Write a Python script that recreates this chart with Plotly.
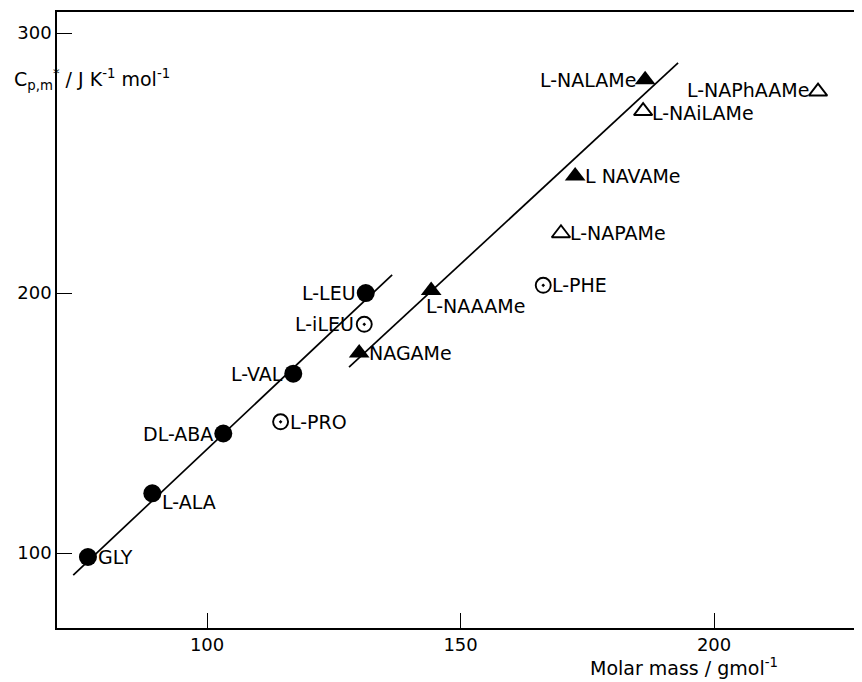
import plotly.graph_objects as go

# ---- data ----
aa_labels = ["GLY", "L-ALA", "DL-ABA", "L-VAL", "L-LEU"]
aa_mass = [76.5, 89.2, 103.2, 117.0, 131.3]
aa_cp = [98.5, 123.0, 146.0, 169.0, 200.0]

aa_open_labels = ["L-iLEU", "L-PRO", "L-PHE"]
aa_open_mass = [131.0, 114.5, 166.3]
aa_open_cp = [188.0, 150.5, 203.0]

pep_labels = ["NAGAMe", "L-NAAAMe", "L NAVAMe", "L-NALAMe"]
pep_mass = [130.0, 144.2, 172.6, 186.4]
pep_cp = [177.0, 201.0, 245.0, 282.0]

pep_open_labels = ["L-NAPAMe", "L-NAiLAMe", "L-NAPhAAMe"]
pep_open_mass = [169.8, 186.0, 220.5]
pep_open_cp = [223.0, 270.0, 277.5]

fit1_mass = [73.6, 136.5]
fit1_cp = [91.5, 207.0]
fit2_mass = [128.0, 192.9]
fit2_cp = [171.5, 288.5]

x_ticks = [100, 150, 200]
y_ticks = [100, 200, 300]

# ---- label placement (style) ----
label_style = {
    "GLY": ("left", 9, 0),
    "L-ALA": ("left", 9, -9),
    "DL-ABA": ("right", -9, 0),
    "L-VAL": ("right", -9, 0),
    "L-LEU": ("right", -9, 0),
    "L-iLEU": ("right", -9, 0),
    "L-PRO": ("left", 8, 0),
    "L-PHE": ("left", 8, 0),
    "NAGAMe": ("left", 9, 0),
    "L-NAAAMe": ("left", -6, -16),
    "L NAVAMe": ("left", 9, 0),
    "L-NALAMe": ("right", -8, 0),
    "L-NAPAMe": ("left", 8, 0),
    "L-NAiLAMe": ("left", 8, -2),
    "L-NAPhAAMe": ("right", -8, 2),
}

FONT = "DejaVu Sans"
fig = go.Figure()

for mx, my in [(fit1_mass, fit1_cp), (fit2_mass, fit2_cp)]:
    fig.add_trace(go.Scatter(x=mx, y=my, mode="lines",
                             line=dict(color="black", width=1.7),
                             hoverinfo="skip"))

fig.add_trace(go.Scatter(x=aa_mass, y=aa_cp, mode="markers",
                         marker=dict(symbol="circle", size=18, color="black")))
fig.add_trace(go.Scatter(x=aa_open_mass, y=aa_open_cp, mode="markers",
                         marker=dict(symbol="circle-open-dot", size=15, color="black",
                                     line=dict(width=1.9, color="black"))))
fig.add_trace(go.Scatter(x=pep_mass, y=pep_cp, mode="markers",
                         marker=dict(symbol="triangle-up", size=18, color="black")))
fig.add_trace(go.Scatter(x=pep_open_mass, y=pep_open_cp, mode="markers",
                         marker=dict(symbol="triangle-up-open", size=16, color="black",
                                     line=dict(width=1.9, color="black"))))

annos = []
for labels, xs, ys in [(aa_labels, aa_mass, aa_cp),
                       (aa_open_labels, aa_open_mass, aa_open_cp),
                       (pep_labels, pep_mass, pep_cp),
                       (pep_open_labels, pep_open_mass, pep_open_cp)]:
    for lab, x, y in zip(labels, xs, ys):
        anchor, dx, dy = label_style[lab]
        annos.append(dict(x=x, y=y, xref="x", yref="y", text=lab, showarrow=False,
                          xanchor=anchor, yanchor="middle", xshift=dx, yshift=dy,
                          borderpad=0,
                          font=dict(family=FONT, size=19, color="black")))

# paper coords: plot area is 813 px wide, 616 px tall
annos.append(dict(x=627 / 813, y=-0.064, xref="paper", yref="paper",
                  text="Molar mass / gmol<sup>-1</sup>", showarrow=False,
                  xanchor="center", yanchor="middle", borderpad=0,
                  font=dict(family=FONT, size=19, color="black")))
annos.append(dict(x=-44 / 813, y=0.89, xref="paper", yref="paper",
                  text="C<sub>p,m</sub><sup>*</sup> / J K<sup>-1</sup> mol<sup>-1</sup>",
                  showarrow=False, xanchor="left", yanchor="middle", borderpad=0,
                  font=dict(family=FONT, size=19, color="black")))

# page has an 8px body margin; plot area runs past the right window edge
fig.update_layout(
    width=862, height=674,
    margin=dict(l=49, r=0, t=4, b=54),
    paper_bgcolor="white", plot_bgcolor="white",
    showlegend=False,
    annotations=annos,
    xaxis=dict(range=[70.4, 230.75], tickvals=x_ticks, ticktext=[str(v) for v in x_ticks],
               ticks="inside", ticklen=15, tickwidth=1.3, tickcolor="black",
               showline=True, linecolor="black", linewidth=1.6, mirror=True,
               showgrid=False, zeroline=False, ticklabelstandoff=0,
               tickfont=dict(family=FONT, size=18, color="black")),
    yaxis=dict(range=[71.2, 308.1], tickvals=y_ticks, ticktext=[str(v) for v in y_ticks],
               ticks="inside", ticklen=15, tickwidth=1.3, tickcolor="black",
               showline=True, linecolor="black", linewidth=1.6,
               showgrid=False, zeroline=False, ticklabelstandoff=0,
               tickfont=dict(family=FONT, size=18, color="black")),
)

fig.write_html("out.html")
